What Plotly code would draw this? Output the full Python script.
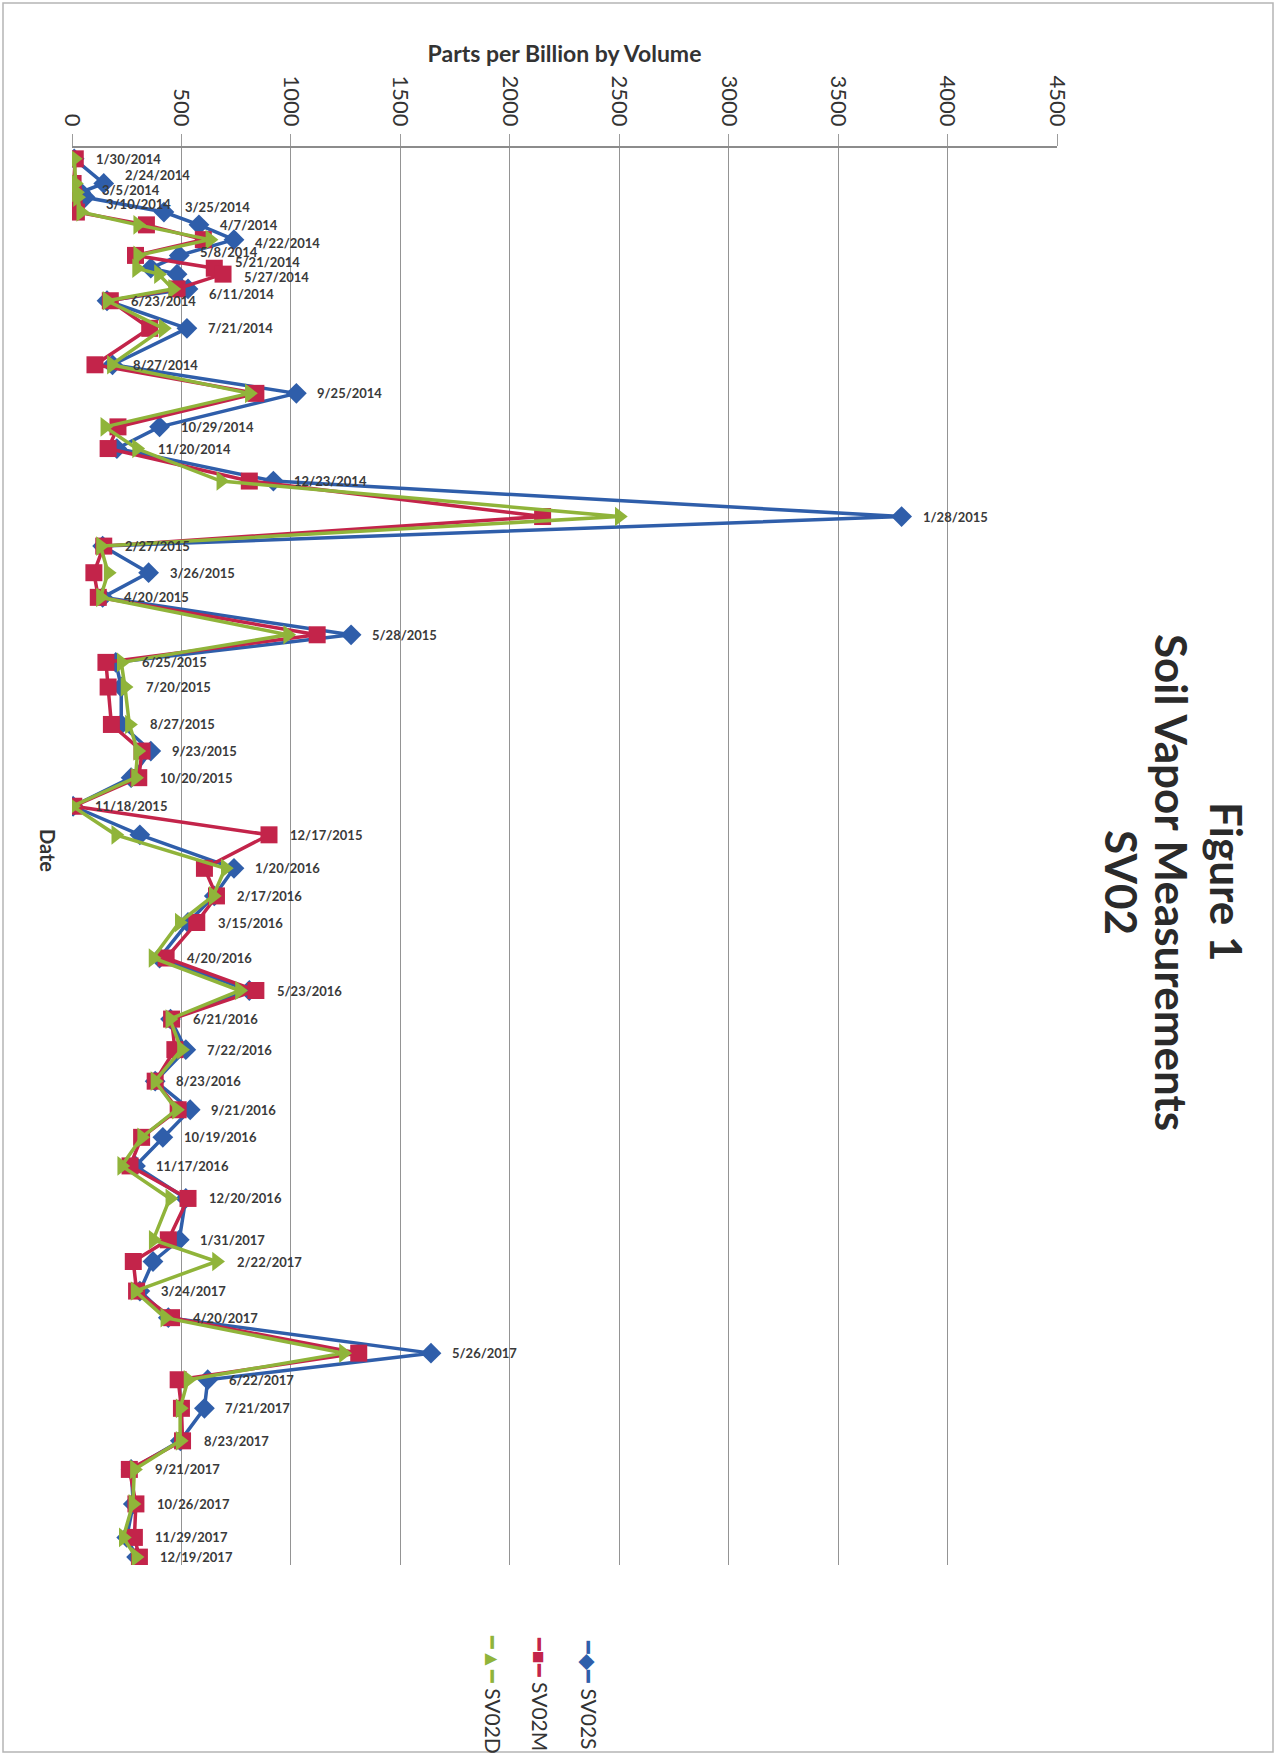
import plotly.graph_objects as go

# --- data ---
dates = [
    "2014-01-30", "2014-02-24", "2014-03-05", "2014-03-10", "2014-03-25", "2014-04-07",
    "2014-04-22", "2014-05-08", "2014-05-21", "2014-05-27", "2014-06-11", "2014-06-23",
    "2014-07-21", "2014-08-27", "2014-09-25", "2014-10-29", "2014-11-20", "2014-12-23",
    "2015-01-28", "2015-02-27", "2015-03-26", "2015-04-20", "2015-05-28", "2015-06-25",
    "2015-07-20", "2015-08-27", "2015-09-23", "2015-10-20", "2015-11-18", "2015-12-17",
    "2016-01-20", "2016-02-17", "2016-03-15", "2016-04-20", "2016-05-23", "2016-06-21",
    "2016-07-22", "2016-08-23", "2016-09-21", "2016-10-19", "2016-11-17", "2016-12-20",
    "2017-01-31", "2017-02-22", "2017-03-24", "2017-04-20", "2017-05-26", "2017-06-22",
    "2017-07-21", "2017-08-23", "2017-09-21", "2017-10-26", "2017-11-29", "2017-12-19",
]

date_labels = [
    "1/30/2014", "2/24/2014", "3/5/2014", "3/10/2014", "3/25/2014", "4/7/2014",
    "4/22/2014", "5/8/2014", "5/21/2014", "5/27/2014", "6/11/2014", "6/23/2014",
    "7/21/2014", "8/27/2014", "9/25/2014", "10/29/2014", "11/20/2014", "12/23/2014",
    "1/28/2015", "2/27/2015", "3/26/2015", "4/20/2015", "5/28/2015", "6/25/2015",
    "7/20/2015", "8/27/2015", "9/23/2015", "10/20/2015", "11/18/2015", "12/17/2015",
    "1/20/2016", "2/17/2016", "3/15/2016", "4/20/2016", "5/23/2016", "6/21/2016",
    "7/22/2016", "8/23/2016", "9/21/2016", "10/19/2016", "11/17/2016", "12/20/2016",
    "1/31/2017", "2/22/2017", "3/24/2017", "4/20/2017", "5/26/2017", "6/22/2017",
    "7/21/2017", "8/23/2017", "9/21/2017", "10/26/2017", "11/29/2017", "12/19/2017",
]

sv02s = [
    10, 145, 40, 60, 420, 580, 740, 490, 360, 480, 530, 160,
    525, 185, 1025, 400, 205, 920,
    3790, 140, 350, 140, 1275, 200, 225, 225, 360, 270, 5, 310,
    740, 650, 530, 400, 810, 450, 520, 380, 540, 415, 290, 520,
    490, 370, 310, 440, 1640, 620, 605, 495, 270, 280, 250, 295,
]
sv02m = [
    15, 5, 5, 10, 20, 340, 600, 290, 650, 690, 480, 175,
    355, 105, 840, 210, 165, 810,
    2150, 145, 100, 120, 1120, 155, 165, 180, 320, 305, 8, 900,
    605, 660, 570, 430, 840, 455, 470, 380, 485, 318, 265, 530,
    440, 280, 295, 455, 1310, 485, 500, 505, 262, 292, 285, 308,
]
sv02d = [
    10, 15, 20, 25, 40, 300, 630, 300, 295, 395, 460, 160,
    417, 180, 810, 150, 295, 680,
    2500, 130, 165, 130, 985, 225, 242, 262, 300, 290, 2, 200,
    700, 645, 490, 370, 765, 447, 500, 379, 477, 318, 227, 447,
    371, 660, 288, 424, 1240, 530, 494, 494, 285, 278, 234, 292,
]

series_names = ["SV02S", "SV02M", "SV02D"]
value_ticks = [0, 500, 1000, 1500, 2000, 2500, 3000, 3500, 4000, 4500]

BLUE = "#2F5EAA"
RED = "#C3244A"
GREEN = "#90B43A"
TEXT = "#3a3a3a"
FONT = "Lato, 'Open Sans', sans-serif"

# --- page geometry (pixels) ---
W, H = 1280, 1756
L, R, T, B = 72, 223, 148, 191


def px_x(px):
    return (px - L) / (W - L - R)


def px_y(py):
    return (H - B - py) / (H - T - B)


# small vertical nudges for labels that crowd each other (as in the original)
label_nudge = {"2/24/2014": 8, "3/5/2014": 2, "3/10/2014": -7,
               "3/25/2014": 5, "4/22/2014": -3, "5/8/2014": 3,
               "5/21/2014": 6, "5/27/2014": -3, "6/11/2014": -5}

fig = go.Figure()

# series: blue first, green drawn last (on top), as in the Excel original
fig.add_trace(go.Scatter(
    x=sv02s, y=dates, mode="lines+markers", name=series_names[0],
    line=dict(color=BLUE, width=3.5),
    marker=dict(symbol="diamond", size=16, color=BLUE),
))
fig.add_trace(go.Scatter(
    x=sv02m, y=dates, mode="lines+markers", name=series_names[1],
    line=dict(color=RED, width=3.5),
    marker=dict(symbol="square", size=17, color=RED),
))
fig.add_trace(go.Scatter(
    x=sv02d, y=dates, mode="lines+markers", name=series_names[2],
    line=dict(color=GREEN, width=3.5),
    marker=dict(symbol="triangle-right", size=17, color=GREEN),
))

# date labels sit just right of the largest value for each date
label_x = [max(a, b, c) for a, b, c in zip(sv02s, sv02m, sv02d)]
for xv, d, lab in zip(label_x, dates, date_labels):
    fig.add_annotation(
        x=xv, y=d, xref="x", yref="y", text=lab, showarrow=False,
        xanchor="left", yanchor="middle", xshift=19, yshift=label_nudge.get(lab, 0),
        font=dict(family=FONT, size=13, color=TEXT, weight="bold"),
    )

fig.update_layout(
    width=W, height=H,
    margin=dict(l=L, r=R, t=T, b=B, autoexpand=False),
    paper_bgcolor="white", plot_bgcolor="white",
    showlegend=False,
    font=dict(family=FONT, color=TEXT),
    xaxis=dict(
        range=[0, 4500], side="top",
        tickvals=value_ticks, tickangle=90,
        tickfont=dict(size=22, color="#333"),
        showgrid=True, gridcolor="#949494", gridwidth=1,
        zeroline=False,
        showline=True, linecolor="#8c8c8c", linewidth=1.5,
        ticks="outside", ticklen=12, tickcolor="#9c9c9c",
        title=dict(text="<b>Parts per Billion by Volume</b>",
                   font=dict(size=23, color="#333"), standoff=6),
    ),
    yaxis=dict(
        type="date", range=["2017-12-27", "2014-01-19"],
        showticklabels=False, showgrid=False, zeroline=False, showline=False,
    ),
)

# rotated texts (the whole sheet was scanned sideways)
fig.add_annotation(
    text="<b>Date</b>", textangle=90, showarrow=False,
    xref="paper", yref="paper", x=px_x(48), y=px_y(850),
    xanchor="center", yanchor="middle",
    font=dict(size=20, color="#333", weight="bold"),
)
title_lines = [("Figure 1", 1227), ("Soil Vapor Measurements", 1172), ("SV02", 1122)]
for line_text, xpx in title_lines:
    fig.add_annotation(
        text=f"<b>{line_text}</b>", textangle=90, showarrow=False,
        xref="paper", yref="paper", x=px_x(xpx), y=px_y(882),
        xanchor="center", yanchor="middle",
        font=dict(size=44, color="#2a2a2a", weight="bold"),
    )

# legend, rotated like the rest of the page
legend_items = [
    (series_names[0], BLUE, "◆", 590),
    (series_names[1], RED, "■", 541),
    (series_names[2], GREEN, "▲", 494),
]
for name, col, sym, xpx in legend_items:
    fig.add_annotation(
        text=f'<span style="color:{col}">━{sym}━</span> {name}', textangle=90,
        showarrow=False, xref="paper", yref="paper", x=px_x(xpx), y=px_y(1694),
        xanchor="center", yanchor="middle",
        font=dict(size=21, color="#333"),
    )

# page edge of the scan
fig.add_shape(
    type="rect", xref="paper", yref="paper",
    x0=px_x(3), x1=px_x(1273), y0=px_y(1752), y1=px_y(3),
    line=dict(color="#b5b5b5", width=1.5),
)

fig.write_html(
    "out.html",
    config={"displayModeBar": False},
    post_script="document.body.style.margin='0';document.body.style.overflow='hidden';",
)
